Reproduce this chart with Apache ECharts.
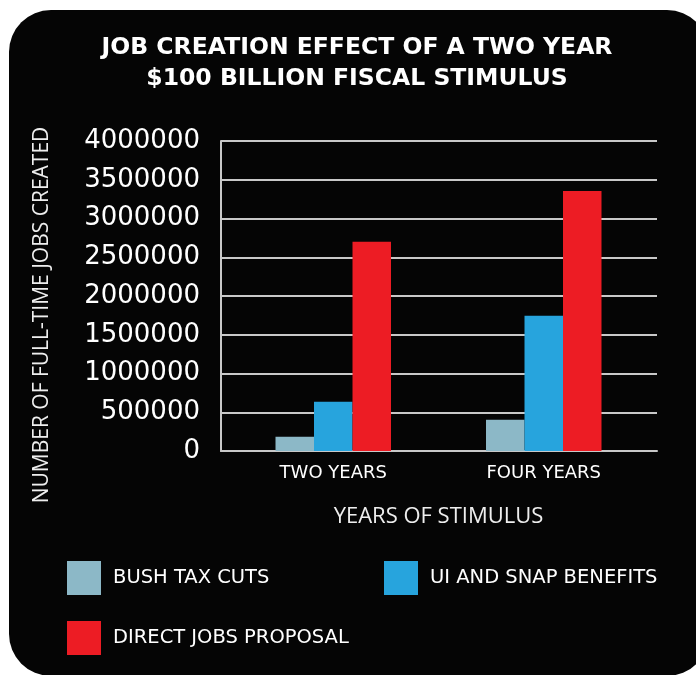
<!DOCTYPE html>
<html>
<head>
<meta charset="utf-8">
<script src="https://cdn.jsdelivr.net/npm/echarts@6/dist/echarts.min.js"></script>
<style>
  html, body { margin: 0; padding: 0; background: #fff; }
  #card { position: absolute; left: 9px; top: 10px; width: 700px; height: 666px; background: #050505; border-radius: 42px; }
  #main { position: absolute; left: 0; top: 0; width: 696px; height: 675px; }
</style>
</head>
<body>
<div id="card"></div>
<div id="main"></div>
<script>
// data
var years = ['TWO YEARS', 'FOUR YEARS'];
var bushTaxCuts = [185000, 404000];
var uiSnap = [636000, 1745000];
var directJobs = [2700000, 3355000];
var yTicks = [0, 500000, 1000000, 1500000, 2000000, 2500000, 3000000, 3500000, 4000000];

var myChart = echarts.init(document.getElementById('main'));

var fontMain = 'DejaVu Sans';
var lineCol = '#c8c8c8';
var legendText = { color: '#fff', fontSize: 19.5, fontFamily: fontMain, padding: [0, 0, 0, 7] };

myChart.setOption({
    animation: false,
    backgroundColor: 'transparent',
    title: {
        text: 'JOB CREATION EFFECT OF A TWO YEAR\n$100 BILLION FISCAL STIMULUS',
        left: 352,
        top: 27,
        textAlign: 'center',
        textStyle: {
            color: '#fff',
            fontSize: 23.5,
            fontWeight: 'bold',
            fontFamily: fontMain,
            lineHeight: 31
        }
    },
    legend: [
        { data: ['BUSH TAX CUTS'], left: 67, top: 561, padding: 0, itemWidth: 34, itemHeight: 34, icon: 'rect', textStyle: legendText },
        { data: ['UI AND SNAP BENEFITS'], left: 384, top: 561, padding: 0, itemWidth: 34, itemHeight: 34, icon: 'rect', textStyle: legendText },
        { data: ['DIRECT JOBS PROPOSAL'], left: 67, top: 621, padding: 0, itemWidth: 34, itemHeight: 34, icon: 'rect', textStyle: legendText }
    ],
    // grid 0: frame with gridlines, grid 1: where the bars sit (a bit narrower, like the original)
    grid: [
        { left: 221, right: 39, top: 141, bottom: 224 },
        { left: 228, right: 47, top: 141, bottom: 224 }
    ],
    xAxis: [
        {
            gridIndex: 0,
            type: 'category',
            data: years,
            axisLine: { show: true, lineStyle: { color: lineCol, width: 2 } },
            axisTick: { show: false },
            axisLabel: { show: false }
        },
        {
            gridIndex: 1,
            type: 'category',
            data: years,
            name: 'YEARS OF STIMULUS',
            nameLocation: 'middle',
            nameGap: 55,
            nameTextStyle: { color: '#eee', fontSize: 22, fontFamily: 'Open Sans' },
            axisLine: { show: false },
            axisTick: { show: false },
            axisLabel: { color: '#fff', fontSize: 18, fontFamily: fontMain, margin: 13 }
        }
    ],
    yAxis: [
        {
            gridIndex: 0,
            type: 'value',
            min: yTicks[0],
            max: yTicks[yTicks.length - 1],
            interval: yTicks[1] - yTicks[0],
            name: 'NUMBER OF FULL-TIME JOBS CREATED',
            nameLocation: 'middle',
            nameGap: 168,
            nameTextStyle: { color: '#eee', fontSize: 21, fontFamily: 'Open Sans', padding: [0, 38, 0, 0] },
            axisLine: { show: true, lineStyle: { color: lineCol, width: 2 } },
            axisTick: { show: false },
            axisLabel: {
                color: '#fff', fontSize: 26, fontFamily: fontMain, margin: 21,
                formatter: function (v) { return String(v); }
            },
            splitLine: { lineStyle: { color: lineCol, width: 2 } }
        },
        {
            gridIndex: 1,
            type: 'value',
            min: yTicks[0],
            max: yTicks[yTicks.length - 1],
            interval: yTicks[1] - yTicks[0],
            show: false
        }
    ],
    series: [
        { name: 'BUSH TAX CUTS', type: 'bar', xAxisIndex: 1, yAxisIndex: 1, data: bushTaxCuts, barWidth: 38.5, barGap: '0%', itemStyle: { color: '#8cb8c7' } },
        { name: 'UI AND SNAP BENEFITS', type: 'bar', xAxisIndex: 1, yAxisIndex: 1, data: uiSnap, barWidth: 38.5, barGap: '0%', itemStyle: { color: '#27a4dd' } },
        { name: 'DIRECT JOBS PROPOSAL', type: 'bar', xAxisIndex: 1, yAxisIndex: 1, data: directJobs, barWidth: 38.5, barGap: '0%', itemStyle: { color: '#ed1c24' } }
    ]
});
</script>
</body>
</html>
